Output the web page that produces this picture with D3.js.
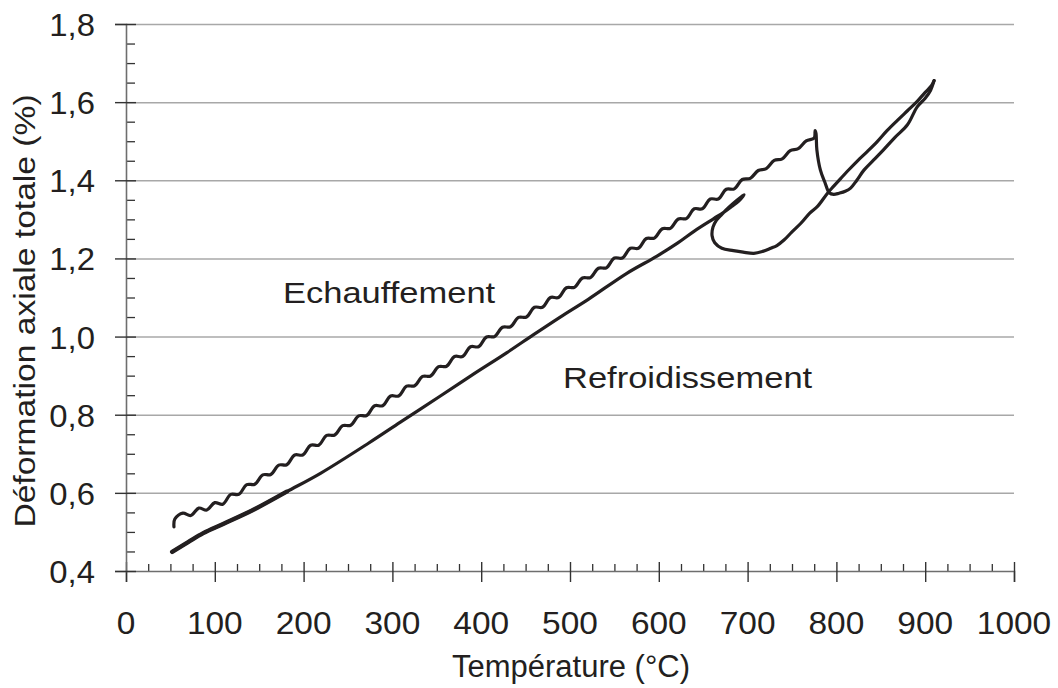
<!DOCTYPE html>
<html>
<head>
<meta charset="utf-8">
<script src="https://cdn.jsdelivr.net/npm/d3@7"></script>
<style>
  html, body { margin: 0; padding: 0; background: #fff; }
  svg text { font-family: "Liberation Sans", Arial, Helvetica, sans-serif; fill: #231f20; }
</style>
</head>
<body>
<svg id="chart" width="1058" height="688"></svg>
<script>
// ---- Data ----
const xTicks = [0, 100, 200, 300, 400, 500, 600, 700, 800, 900, 1000];
const yTicks = [0.4, 0.6, 0.8, 1.0, 1.2, 1.4, 1.6, 1.8];
const yTickLabels = ["0,4", "0,6", "0,8", "1,0", "1,2", "1,4", "1,6", "1,8"];
const xTitle = "Température (°C)";
const yTitle = "Déformation axiale totale (%)";
const labelHeating = "Echauffement";
const labelCooling = "Refroidissement";

// Heating curve (Echauffement) — temperature (°C)
const heatT = [54, 55, 64, 73, 82, 91, 100, 109, 118, 127, 136, 145, 154, 163, 172, 181, 190, 199, 208, 217,
  226, 235, 244, 253, 262, 271, 280, 289, 298, 307, 316, 325, 334, 343, 352, 361, 370, 379, 388, 397,
  406, 415, 424, 433, 442, 451, 460, 469, 478, 487, 496, 505, 514, 523, 532, 541, 550, 559, 568, 577,
  586, 595, 604, 613, 622, 631, 640, 649, 658, 667, 676, 685, 694, 703, 712, 721, 730, 739, 748, 757,
  766, 775, 776, 777, 778, 782, 787, 792, 797, 803, 810, 816, 823, 831, 842, 853, 866, 880, 891, 900, 906, 910];
// Heating curve — deformation (%)
const heatV = [0.513, 0.533, 0.548, 0.542, 0.561, 0.556, 0.575, 0.571, 0.596, 0.596, 0.621, 0.622, 0.646, 0.647, 0.671, 0.672, 0.697, 0.697, 0.722, 0.722,
  0.747, 0.748, 0.772, 0.773, 0.797, 0.798, 0.823, 0.823, 0.848, 0.848, 0.873, 0.874, 0.898, 0.899, 0.923, 0.924, 0.949, 0.949, 0.974, 0.974,
  0.999, 1.000, 1.024, 1.025, 1.049, 1.050, 1.075, 1.075, 1.100, 1.100, 1.125, 1.126, 1.150, 1.151, 1.175, 1.176, 1.201, 1.201, 1.226, 1.226,
  1.251, 1.252, 1.276, 1.277, 1.301, 1.302, 1.327, 1.327, 1.352, 1.352, 1.377, 1.378, 1.402, 1.405, 1.425, 1.430, 1.451, 1.455, 1.476, 1.481,
  1.501, 1.508, 1.527, 1.520, 1.478, 1.426, 1.395, 1.368, 1.364, 1.367, 1.372, 1.380, 1.400, 1.426, 1.452, 1.478, 1.510, 1.542, 1.588, 1.610, 1.630, 1.655];

// Cooling curve (Refroidissement) — temperature (°C)
const coolT = [910, 907, 900, 891, 880, 869, 857, 846, 835, 823, 814, 805, 797, 790, 779, 770, 760, 750, 741, 733,
  726, 717, 707, 695, 684, 671, 663, 660, 661, 665, 671, 679, 687, 693, 696, 690, 682, 673, 662, 640,
  621, 598, 564, 521, 489, 459, 429, 390, 354, 309, 273, 219, 181, 143, 110, 87, 70, 52];
// Cooling curve — deformation (%)
const coolV = [1.655, 1.642, 1.625, 1.602, 1.578, 1.554, 1.527, 1.499, 1.474, 1.448, 1.427, 1.405, 1.385, 1.367, 1.334, 1.316, 1.290, 1.268, 1.247, 1.233,
  1.226, 1.218, 1.213, 1.216, 1.220, 1.226, 1.240, 1.258, 1.280, 1.298, 1.313, 1.331, 1.347, 1.358, 1.363, 1.347, 1.333, 1.318, 1.302, 1.270,
  1.239, 1.206, 1.162, 1.096, 1.050, 1.005, 0.959, 0.902, 0.848, 0.781, 0.727, 0.650, 0.603, 0.556, 0.521, 0.497, 0.474, 0.449];

// ---- Chart ----
const svg = d3.select("#chart");
const x = d3.scaleLinear().domain([0, 1000]).range([126, 1014]);
const y = d3.scaleLinear().domain([0.4, 1.8]).range([571, 24]);
const ink = "#231f20";

// gridlines
const grid = svg.append("g").attr("transform", `translate(${x(0)},0)`)
  .call(d3.axisLeft(y).tickValues(yTicks.slice(1)).tickSize(-(x(1000) - x(0))).tickFormat(""));
grid.select(".domain").remove();
grid.selectAll(".tick line").attr("stroke", "#a8a8a8").attr("stroke-width", 1.5);

// x minor ticks (upward)
const xMinor = d3.range(0, 1001, 25).filter(v => v % 100 !== 0);
const gxm = svg.append("g").attr("transform", `translate(0,${y(0.4)})`)
  .call(d3.axisBottom(x).tickValues(xMinor).tickSize(-7).tickFormat(""));
gxm.select(".domain").remove();
gxm.selectAll(".tick line").attr("stroke", "#333").attr("stroke-width", 1.3);

// y minor ticks (to the right), every 0.05 between majors
const yMinor = d3.range(9, 36).filter(k => k % 4 !== 0).map(k => k * 0.05);
const gym = svg.append("g").attr("transform", `translate(${x(0)},0)`)
  .call(d3.axisLeft(y).tickValues(yMinor).tickSize(-9).tickFormat(""));
gym.select(".domain").remove();
gym.selectAll(".tick line").attr("stroke", "#333").attr("stroke-width", 1.3);

// x axis major
const gx = svg.append("g").attr("transform", `translate(0,${y(0.4)})`)
  .call(d3.axisBottom(x).tickValues(xTicks).tickSize(11).tickFormat(""));
gx.select(".domain").attr("stroke", "#6e6e6e").attr("stroke-width", 1.6);
gx.selectAll(".tick line").attr("y1", -9).attr("stroke", "#333").attr("stroke-width", 1.4);

// y axis major
const gy = svg.append("g").attr("transform", `translate(${x(0)},0)`)
  .call(d3.axisLeft(y).tickValues(yTicks).tickSize(11).tickFormat(""));
gy.select(".domain").attr("stroke", "#6e6e6e").attr("stroke-width", 1.6);
gy.selectAll(".tick line").attr("x1", 10).attr("stroke", "#333").attr("stroke-width", 1.4);

// text helper
function label(txt, tx, ty, anchor, size, sx, rot) {
  const g = svg.append("g").attr("transform", `translate(${tx},${ty})` + (rot ? ` rotate(${rot})` : "") + ` scale(${sx},1)`);
  g.append("text").attr("text-anchor", anchor).attr("font-size", size).text(txt);
}

// tick labels
xTicks.forEach(v => label(String(v), x(v), 634, "middle", 31, 1.08));
yTicks.forEach((v, i) => label(yTickLabels[i], 95, y(v) + 12, "end", 31, 1.06));

// axis titles
label(xTitle, 571, 677, "middle", 31, 1.0);
label(yTitle, 35, 311, "middle", 30, 1.12, -90);

// curves
const heat = heatT.map((t, i) => [t, heatV[i]]);
const cool = coolT.map((t, i) => [t, coolV[i]]);
const line = d3.line().x(d => x(d[0])).y(d => y(d[1])).curve(d3.curveCatmullRom.alpha(0.5));
svg.append("path").datum(heat).attr("d", line).attr("fill", "none").attr("stroke", ink)
  .attr("stroke-width", 3.2).attr("stroke-linejoin", "round").attr("stroke-linecap", "round");
svg.append("path").datum(cool).attr("d", line).attr("fill", "none").attr("stroke", ink)
  .attr("stroke-width", 3.2).attr("stroke-linejoin", "round").attr("stroke-linecap", "round");
// thicker start of the cooling trace (low temperatures)
svg.append("path").datum(cool.slice(-6)).attr("d", line).attr("fill", "none").attr("stroke", ink)
  .attr("stroke-width", 4.4).attr("stroke-linecap", "round");

// annotations
label(labelHeating, 283, 303, "start", 30, 1.15);
label(labelCooling, 563, 388, "start", 30, 1.15);
</script>
</body>
</html>
